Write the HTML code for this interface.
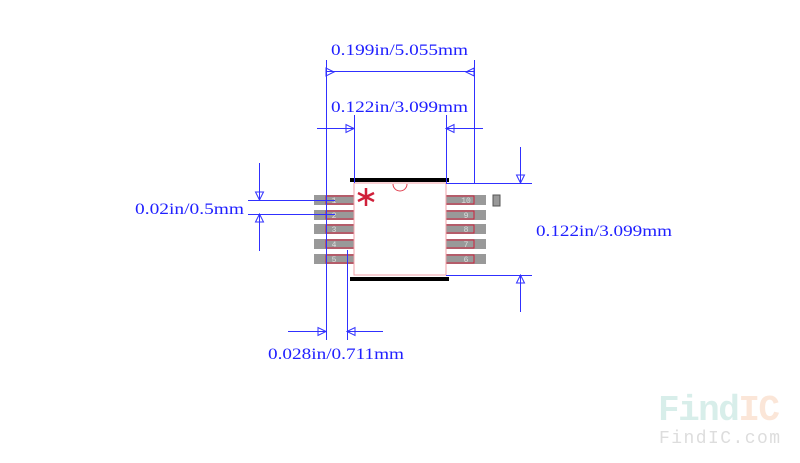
<html><body style="margin:0;background:#fff">
<svg width="800" height="463" xmlns="http://www.w3.org/2000/svg" style="font-family:'Liberation Mono',monospace">
<g fill="#999">
<rect x="314" y="195" width="40" height="10"/><rect x="314" y="210" width="40" height="10"/><rect x="314" y="224" width="40" height="10"/><rect x="314" y="239" width="40" height="10"/><rect x="314" y="254" width="40" height="10"/>
<rect x="446" y="195" width="40" height="10"/><rect x="446" y="210" width="40" height="10"/><rect x="446" y="224" width="40" height="10"/><rect x="446" y="239" width="40" height="10"/><rect x="446" y="254" width="40" height="10"/>
<rect x="493" y="195" width="7" height="11" stroke="#555" stroke-width="1"/>
</g>
<g fill="none" stroke="#d0203a" stroke-width="1">
<rect x="326" y="196" width="28" height="8"/><rect x="326" y="211" width="28" height="8"/><rect x="326" y="225" width="28" height="8"/><rect x="326" y="240" width="28" height="8"/><rect x="326" y="255" width="28" height="8"/>
<rect x="446" y="196" width="28" height="8"/><rect x="446" y="211" width="28" height="8"/><rect x="446" y="225" width="28" height="8"/><rect x="446" y="240" width="28" height="8"/><rect x="446" y="255" width="28" height="8"/>
<rect x="354" y="183" width="92" height="92" stroke="#f0a0a8"/>
<path d="M393 184 A7 7 0 0 0 407 184" stroke="#e04050"/>
</g>
<g fill="#ddd" font-size="8" text-anchor="middle">
<text x="334" y="203">1</text><text x="334" y="218">2</text><text x="334" y="232">3</text><text x="334" y="247">4</text><text x="334" y="262">5</text>
<text x="466" y="203">10</text><text x="466" y="218">9</text><text x="466" y="232">8</text><text x="466" y="247">7</text><text x="466" y="262">6</text>
</g>
<g stroke="#d0203a" stroke-width="2.5"><path d="M366 188V206M358 193L374 201M358 201L374 193"/></g>
<rect x="350" y="178" width="99" height="4" fill="#000"/><rect x="350" y="277" width="99" height="4" fill="#000"/>
<g stroke="#3030ff" stroke-width="1" fill="none">
<path d="M326.5 60V340M474.5 60V183M354.5 115V183M446.5 115V183M347.5 250V340M326 71.5H474M317 128.5H354M446 128.5H483"/>
<path d="M446 183.5H532M446 275.5H532M520.5 147V183M520.5 275V312"/>
<path d="M248 200.5H335M248 214.5H335M259.5 163V200M259.5 214V251"/>
<path d="M288 331.5H326M347 331.5H383"/>
<path d="M334 72l-8-4v8zM466 72l8-4v8z"/>
<path d="M354 128.5l-8-4v8zM446 128.5l8-4v8z"/>
<path d="M520.5 183l-4-8h8zM520.5 275l-4 8h8z"/>
<path d="M259.5 200l-4-8h8zM259.5 214l-4 8h8z"/>
<path d="M326 331.5l-8-4v8zM347 331.5l8-4v8z"/>
</g>
<g fill="#2020ff" font-size="16" font-family="'Liberation Serif',serif">
<text x="331" y="55" textLength="137" lengthAdjust="spacingAndGlyphs">0.199in/5.055mm</text>
<text x="331" y="112" textLength="137" lengthAdjust="spacingAndGlyphs">0.122in/3.099mm</text>
<text x="135" y="214" textLength="109" lengthAdjust="spacingAndGlyphs">0.02in/0.5mm</text>
<text x="536" y="236" textLength="136" lengthAdjust="spacingAndGlyphs">0.122in/3.099mm</text>
<text x="268" y="359" textLength="136" lengthAdjust="spacingAndGlyphs">0.028in/0.711mm</text>
</g>
<text x="658" y="420" font-size="36" font-weight="bold" fill="#d8eeea" font-family="Liberation Mono" textLength="122">Find<tspan fill="#fbe6d8">IC</tspan></text>
<text x="659" y="443" font-size="18" fill="#ddd" font-family="Liberation Mono" textLength="121">FindIC.com</text>
</svg>
</body></html>
